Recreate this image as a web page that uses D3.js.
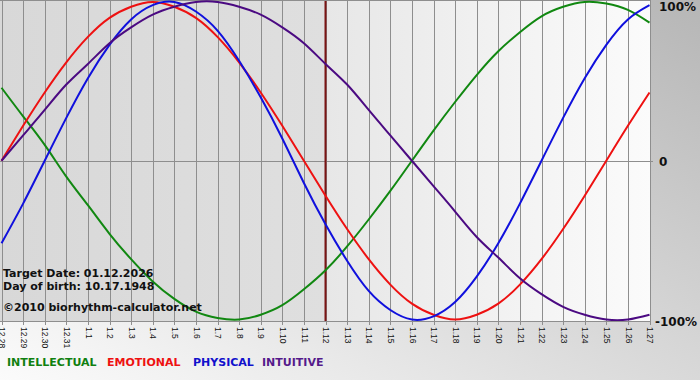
<!DOCTYPE html>
<html><head><meta charset="utf-8">
<script src="https://cdn.jsdelivr.net/npm/d3@7"></script>
<style>html,body{margin:0;padding:0;background:#fff;overflow:hidden}</style>
</head><body>
<svg id="c" width="700" height="380"></svg>
<script>
const dates = ["12.28","12.29","12.30","12.31","1.1","1.2","1.3","1.4","1.5","1.6","1.7","1.8","1.9","1.10","1.11","1.12","1.13","1.14","1.15","1.16","1.17","1.18","1.19","1.20","1.21","1.22","1.23","1.24","1.25","1.26","1.27"];
const intellectual = [46,28,10,-10,-28,-46,-62,-76,-87,-95,-99,-100,-97,-91,-81,-69,-54,-37,-19,0,19,37,54,69,81,91,97,100,99,95,87];
const emotional = [0,22,43,62,78,90,97,100,97,90,78,62,43,22,0,-22,-43,-62,-78,-90,-97,-100,-97,-90,-78,-62,-43,-22,0,22,43];
const physical = [-52,-27,0,27,52,73,89,98,100,94,82,63,40,14,-14,-40,-63,-82,-94,-100,-98,-89,-73,-52,-27,0,27,52,73,89,98];
const intuitive = [0,16,32,48,61,74,84,92,97,100,100,97,92,84,74,61,48,32,16,0,-16,-32,-48,-61,-74,-84,-92,-97,-100,-100,-97];
const targetIndex = 15;
const yTicks = [100, 0, -100];
const yTickLabels = ["100%", "0", "-100%"];
const textLines = ["Target Date: 01.12.2026", "Day of birth: 10.17.1948", "©2010 biorhythm-calculator.net"];
const legendNames = ["INTELLECTUAL", "EMOTIONAL", "PHYSICAL", "INTUITIVE"];

const svg = d3.select("#c");
const W = 700, H = 380, plotR = 650.5, plotB = 321;
const x = d3.scaleLinear().domain([0, 30]).range([1.5, 649.5]);
const y = d3.scaleLinear().domain([-100, 100]).range([319.5, 2]);

const defs = svg.append("defs");
const g1 = defs.append("linearGradient").attr("id","bg").attr("x1","0").attr("y1","1").attr("x2","1").attr("y2","0");
g1.append("stop").attr("offset","0").attr("stop-color","#fbfbfb");
g1.append("stop").attr("offset","1").attr("stop-color","#b6b6b6");
const g2 = defs.append("linearGradient").attr("id","pl").attr("x1","0").attr("x2","1");
g2.append("stop").attr("offset","0").attr("stop-color","#d8d8d8");
g2.append("stop").attr("offset","1").attr("stop-color","#dfdfdf");
const g3 = defs.append("linearGradient").attr("id","pr").attr("x1","0").attr("x2","1");
g3.append("stop").attr("offset","0").attr("stop-color","#e7e7e7");
g3.append("stop").attr("offset","1").attr("stop-color","#fbfbfb");
defs.append("clipPath").attr("id","clip").append("rect").attr("x",0).attr("y",0).attr("width",plotR).attr("height",plotB);

svg.append("rect").attr("width",W).attr("height",H).attr("fill","url(#bg)");
const tx = x(targetIndex);
svg.append("rect").attr("x",0).attr("y",0).attr("width",tx).attr("height",plotB).attr("fill","url(#pl)");
svg.append("rect").attr("x",tx).attr("y",0).attr("width",plotR-tx).attr("height",plotB).attr("fill","url(#pr)");

// vertical grid lines + ticks
svg.append("g").selectAll("line").data(dates).join("line")
  .attr("x1",(d,i)=>Math.round(x(i))+0.5).attr("x2",(d,i)=>Math.round(x(i))+0.5)
  .attr("y1",0).attr("y2",325).attr("stroke","#8e8e8e").attr("stroke-width",1);

// horizontal lines
svg.append("line").attr("x1",0).attr("x2",plotR).attr("y1",0.5).attr("y2",0.5).attr("stroke","#8e8e8e");
svg.append("line").attr("x1",0).attr("x2",653).attr("y1",Math.round(y(0))+0.5).attr("y2",Math.round(y(0))+0.5).attr("stroke","#8e8e8e");
svg.append("line").attr("x1",0).attr("x2",plotR).attr("y1",plotB+0.5).attr("y2",plotB+0.5).attr("stroke","#8e8e8e");

// target line
svg.append("line").attr("x1",tx).attr("x2",tx).attr("y1",1).attr("y2",plotB)
  .attr("stroke","#7a1414").attr("stroke-width",2);

// x labels
const axis = d3.axisBottom(x).tickValues(d3.range(dates.length)).tickFormat(i=>dates[i]).tickSize(0).tickPadding(0);
const ag = svg.append("g").attr("transform",`translate(0,${plotB})`).call(axis);
ag.select(".domain").remove();
ag.selectAll("text").attr("transform","rotate(90)").attr("x",6).attr("y",0).attr("dy","0.32em")
  .style("text-anchor","start").attr("fill","#111")
  .style("font-family","'Liberation Sans', Arial, sans-serif").style("font-size","8.5px");

// curves
const series = [
  {v: intellectual, c: "#118811"},
  {v: emotional, c: "#ee1111"},
  {v: physical, c: "#1010dd"},
  {v: intuitive, c: "#4b0a82"}
];
const line = d3.line().x((d,i)=>x(i)).y(d=>y(d)).curve(d3.curveNatural);
svg.append("g").attr("clip-path","url(#clip)").selectAll("path").data(series).join("path")
  .attr("d",d=>line(d.v)).attr("fill","none").attr("stroke",d=>d.c).attr("stroke-width",2);

// left texts
const ty = [277, 290, 311];
svg.append("g").selectAll("text").data(textLines).join("text")
  .attr("x",3).attr("y",(d,i)=>ty[i]).text(d=>d)
  .style("font-family","'DejaVu Sans', Verdana, sans-serif").style("font-weight","bold").style("font-size","11px").attr("fill","#111");

// right labels
const ry = [11, 166, 326];
const rx = [659, 659, 655];
svg.append("g").selectAll("text").data(yTickLabels).join("text")
  .attr("x",(d,i)=>rx[i]).attr("y",(d,i)=>ry[i]).text(d=>d)
  .style("font-family","'DejaVu Sans', Verdana, sans-serif").style("font-weight","bold").style("font-size","12px").attr("fill","#111");

// legend
const lx = [7, 107, 193, 262];
const lc = ["#108010", "#ee1111", "#1111cc", "#551a8b"];
svg.append("g").selectAll("text").data(legendNames).join("text")
  .attr("x",(d,i)=>lx[i]).attr("y",366).text(d=>d).attr("fill",(d,i)=>lc[i])
  .style("font-family","'DejaVu Sans', Verdana, sans-serif").style("font-weight","bold").style("font-size","11px");
</script>
</body></html>
